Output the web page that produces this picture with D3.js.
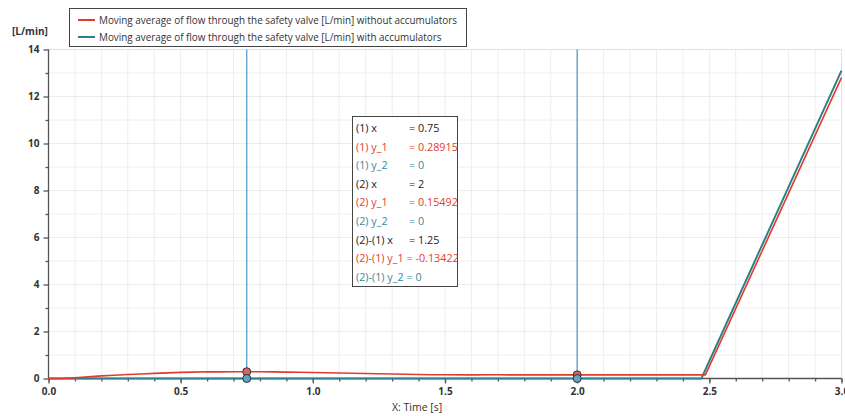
<!DOCTYPE html>
<html><head><meta charset="utf-8">
<script src="https://cdn.jsdelivr.net/npm/d3@7"></script>
<style>
body{margin:0;background:#fff;}
svg{font-family:"Open Sans","Noto Sans",sans-serif;}
</style></head><body>
<svg id="c" width="845" height="416"></svg>
<script>
const redT = [0,0.05,0.1,0.15,0.2,0.25,0.3,0.35,0.4,0.45,0.5,0.55,0.6,0.65,0.7,0.75,0.8,0.85,0.9,0.95,1.0,1.05,1.1,1.15,1.2,1.25,1.3,1.35,1.4,1.45,1.5,1.6,1.7,1.8,1.9,2.0,2.1,2.2,2.3,2.4,2.485,3.0];
const redY = [0,0,0.03,0.07,0.11,0.14,0.17,0.19,0.22,0.24,0.26,0.27,0.29,0.28,0.29,0.289,0.285,0.28,0.27,0.265,0.255,0.245,0.235,0.225,0.215,0.205,0.19,0.18,0.17,0.16,0.158,0.155,0.157,0.153,0.156,0.155,0.156,0.154,0.156,0.155,0.155,12.8];
const tealT = [0,2.47,3.0];
const tealY = [0,0,13.1];
const cursorX = [0.75,2.0];
const cursorRed = [0.28915,0.15492];
const cursorTeal = [0,0];
const xTicks = [0,0.5,1.0,1.5,2.0,2.5,3.0];
const yTicks = [0,2,4,6,8,10,12,14];
const legendLabels = ["Moving average of flow through the safety valve [L/min] without accumulators","Moving average of flow through the safety valve [L/min] with accumulators"];
const infoLines = [["(1) x","= 0.75","k"],["(1) y_1","= 0.28915","r"],["(1) y_2","= 0","t"],["(2) x","= 2","k"],["(2) y_1","= 0.15492","r"],["(2) y_2","= 0","t"],["(2)-(1) x","= 1.25","k"],["(2)-(1) y_1 = -0.13422","","r"],["(2)-(1) y_2 = 0","","t"]];

const RED="#e33b2e", TEAL="#2e7f8c", CUR="#4a93c9";
const svg=d3.select("#c");
const x=d3.scaleLinear().domain([0,3]).range([48.5,841.5]);
const y=d3.scaleLinear().domain([0,14]).range([378.5,49.5]);

// grid
const g=svg.append("g");
d3.range(0,3.001,0.1).forEach(v=>{
  const major=Math.abs(v*2-Math.round(v*2))<1e-6;
  g.append("line").attr("x1",x(v)).attr("x2",x(v)).attr("y1",y(14)).attr("y2",y(0))
   .attr("stroke",major?"#d8d8d8":"#eeeeee").attr("stroke-dasharray",major?"1,1":null);
});
d3.range(1,14.001,1).forEach(v=>{
  const major=v%2===0;
  g.append("line").attr("x1",x(0)).attr("x2",x(3)).attr("y1",y(v)).attr("y2",y(v))
   .attr("stroke",major?"#d8d8d8":"#eeeeee").attr("stroke-dasharray",major?"1,1":null);
});
svg.append("line").attr("x1",x(0)).attr("x2",x(3)).attr("y1",y(14)).attr("y2",y(14)).attr("stroke","#e0e0e0");
svg.append("line").attr("x1",x(3)).attr("x2",x(3)).attr("y1",y(14)).attr("y2",y(0)).attr("stroke","#e0e0e0");

// axes
const xa=svg.append("g").attr("transform",`translate(0,${y(0)})`)
  .call(d3.axisBottom(x).tickValues(xTicks).tickFormat(d3.format(".1f")).tickSize(5).tickPadding(4));
const xm=svg.append("g").attr("transform",`translate(0,${y(0)})`)
  .call(d3.axisBottom(x).tickValues(d3.range(0,3.001,0.1)).tickFormat("").tickSize(3));
const ya=svg.append("g").attr("transform",`translate(${x(0)},0)`)
  .call(d3.axisLeft(y).tickValues(yTicks).tickSize(5).tickPadding(4));
const ym=svg.append("g").attr("transform",`translate(${x(0)},0)`)
  .call(d3.axisLeft(y).tickValues(d3.range(1,14,2)).tickFormat("").tickSize(3));
[xa,xm,ya,ym].forEach(a=>{a.selectAll("path,line").attr("stroke","#555").attr("stroke-width",1.3);
  a.selectAll("text").attr("fill","#333").attr("font-weight","bold").attr("font-size","10px").attr("font-family","'Open Sans',sans-serif");});
xm.select("path").remove(); ym.select("path").remove();
xa.select("path").attr("d",`M${x(0)},0H${x(3)}`);
ya.select("path").attr("d",`M0,${y(0)}V${y(14)}`);

svg.append("text").attr("x",12).attr("y",35).attr("font-size","10px").attr("font-weight","bold").attr("fill","#333").text("[L/min]");
svg.append("text").attr("x",392).attr("y",411).attr("font-size","10.5px").attr("fill","#333").text("X: Time [s]");

// cursors
cursorX.forEach(v=>svg.append("line").attr("x1",x(v)).attr("x2",x(v)).attr("y1",y(14)).attr("y2",y(0)).attr("stroke",CUR).attr("stroke-width",1.2));

// lines
const line=d3.line().x(d=>x(d[0])).y(d=>y(d[1]));
svg.append("path").datum(tealT.map((t,i)=>[t,tealY[i]])).attr("d",line).attr("fill","none").attr("stroke",TEAL).attr("stroke-width",2);
svg.append("path").datum(redT.map((t,i)=>[t,redY[i]])).attr("d",line).attr("fill","none").attr("stroke",RED).attr("stroke-width",1.6);

// markers
cursorX.forEach((v,i)=>{
  svg.append("circle").attr("cx",x(v)).attr("cy",y(cursorRed[i])).attr("r",4).attr("fill","#e06060").attr("stroke","#333").attr("stroke-width",1);
  svg.append("circle").attr("cx",x(v)).attr("cy",y(cursorTeal[i])).attr("r",4).attr("fill","#5fa3c4").attr("stroke","#333").attr("stroke-width",1);
});

// legend
const lg=svg.append("g");
lg.append("rect").attr("x",69.5).attr("y",8.5).attr("width",397).attr("height",38).attr("fill","#fff").attr("stroke","#444");
legendLabels.forEach((l,i)=>{
  const yy=20+i*17;
  lg.append("line").attr("x1",78).attr("x2",95).attr("y1",yy).attr("y2",yy).attr("stroke",i?TEAL:RED).attr("stroke-width",2);
  lg.append("text").attr("x",99).attr("y",yy+4).attr("font-size","9.9px").attr("fill","#333").text(l);
});

// info box
svg.append("clipPath").attr("id","ibclip").append("rect").attr("x",352.5).attr("y",116.5).attr("width",105).attr("height",170);
const ib=svg.append("g");
ib.append("rect").attr("x",352.5).attr("y",116.5).attr("width",105).attr("height",170).attr("fill","#fff").attr("stroke","#444");
const col={k:"#222",r:"#e33b2e",t:"#3a8a9a"};
const it=ib.append("g").attr("clip-path","url(#ibclip)");
infoLines.forEach((r,i)=>{
  const yy=132+i*18.6;
  it.append("text").attr("x",356).attr("y",yy).attr("font-size","10.8px").attr("fill",col[r[2]]).text(r[0]);
  if(r[1]) it.append("text").attr("x",409).attr("y",yy).attr("font-size","10.8px").attr("fill",col[r[2]]).text(r[1]);
});
</script></body></html>
